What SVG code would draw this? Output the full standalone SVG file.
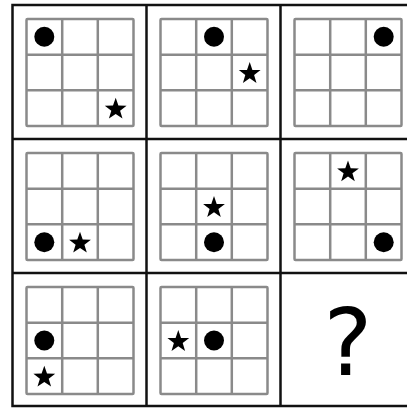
<svg xmlns="http://www.w3.org/2000/svg" xmlns:xlink="http://www.w3.org/1999/xlink" width="407" height="408" viewBox="0 0 407 408">
<style>
.frame{fill:none;stroke:#111;stroke-width:2.5}
.grid{fill:#fff;stroke:#8a8a8a;stroke-width:2.5}
.gl{stroke:#8a8a8a;stroke-width:2.5}
.dot{fill:#000}
.star{fill:#000}
.q{font-family:"DejaVu Sans",sans-serif;font-size:92px;fill:#000;text-anchor:middle}
</style>
<defs>
<g id="grid">
<rect class="grid" x="14" y="14" width="107" height="107" rx="1"/>
<line class="gl" x1="49.7" y1="14" x2="49.7" y2="121"/>
<line class="gl" x1="85.3" y1="14" x2="85.3" y2="121"/>
<line class="gl" x1="14" y1="49.7" x2="121" y2="49.7"/>
<line class="gl" x1="14" y1="85.3" x2="121" y2="85.3"/>
</g>
<circle id="dot" class="dot" r="10"/>
<polygon id="star" class="star" points="0,-10.4 2.7,-2.6 10.9,-2.4 4.4,2.5 6.8,10.4 0,5.7 -6.8,10.4 -4.4,2.5 -10.9,-2.4 -2.7,-2.6"/>
</defs>
<rect width="407" height="408" fill="#fff"/>
<g id="cell-1-1" transform="translate(12.5,5)">
<use xlink:href="#grid"/>
<use xlink:href="#dot" x="31.8" y="31.8"/>
<use xlink:href="#star" x="103.2" y="103.2"/>
</g>
<g id="cell-1-2" transform="translate(146.5,5)">
<use xlink:href="#grid"/>
<use xlink:href="#dot" x="67.5" y="31.8"/>
<use xlink:href="#star" x="103.2" y="67.5"/>
</g>
<g id="cell-1-3" transform="translate(280.5,5)">
<use xlink:href="#grid"/>
<use xlink:href="#dot" x="103.2" y="31.8"/>
</g>
<g id="cell-2-1" transform="translate(12.5,139)">
<use xlink:href="#grid"/>
<use xlink:href="#dot" x="31.8" y="103.2"/>
<use xlink:href="#star" x="67.5" y="103.2"/>
</g>
<g id="cell-2-2" transform="translate(146.5,139)">
<use xlink:href="#grid"/>
<use xlink:href="#star" x="67.5" y="67.5"/>
<use xlink:href="#dot" x="67.5" y="103.2"/>
</g>
<g id="cell-2-3" transform="translate(280.5,139)">
<use xlink:href="#grid"/>
<use xlink:href="#star" x="67.5" y="31.8"/>
<use xlink:href="#dot" x="103.2" y="103.2"/>
</g>
<g id="cell-3-1" transform="translate(12.5,273)">
<use xlink:href="#grid"/>
<use xlink:href="#dot" x="31.8" y="67.5"/>
<use xlink:href="#star" x="31.8" y="103.2"/>
</g>
<g id="cell-3-2" transform="translate(146.5,273)">
<use xlink:href="#grid"/>
<use xlink:href="#star" x="31.8" y="67.5"/>
<use xlink:href="#dot" x="67.5" y="67.5"/>
</g>
<g id="cell-3-3" transform="translate(280.5,273)">
<text class="q" x="67.5" y="102">?</text>
</g>
<g id="frame">
<rect class="frame" x="12.5" y="5" width="402" height="401"/>
<line class="frame" x1="146.5" y1="5" x2="146.5" y2="406"/>
<line class="frame" x1="280.5" y1="5" x2="280.5" y2="406"/>
<line class="frame" x1="12.5" y1="139" x2="414.5" y2="139"/>
<line class="frame" x1="12.5" y1="273" x2="414.5" y2="273"/>
</g>
</svg>
